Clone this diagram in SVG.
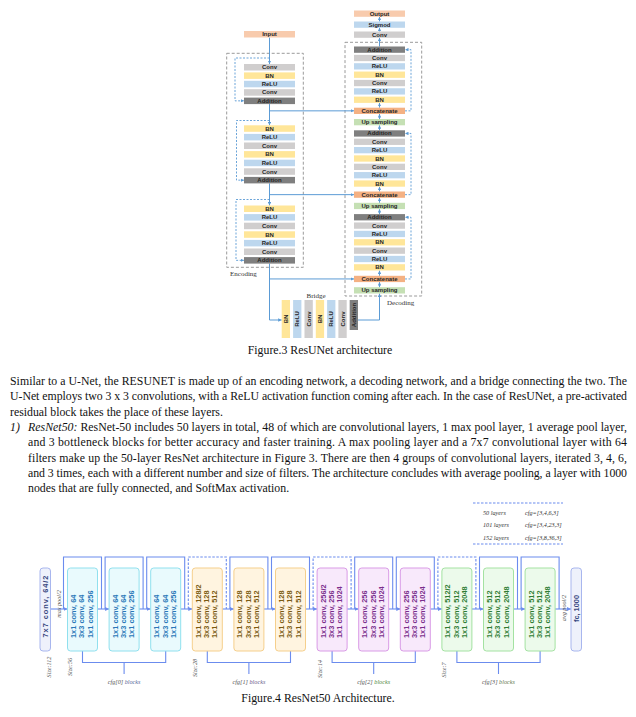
<svg xmlns="http://www.w3.org/2000/svg" width="636" height="717" viewBox="0 0 636 717">
<defs>
<style>
.conv{fill:#d0cece}.bn{fill:#ffe699}.relu{fill:#bdd7ee}.add{fill:#7f7f7f}.io{fill:#f8cbad}.cat{fill:#f4b183}.up{fill:#c5e0b4}
.t{font-family:"Liberation Sans",Arial,sans-serif;font-weight:bold;font-size:6px;text-anchor:middle;dominant-baseline:central;fill:#262626}
.ln{fill:none;stroke:#5b9bd5;stroke-width:1}
.dl{fill:none;stroke:#5b9bd5;stroke-width:0.9;stroke-dasharray:2 1.5}
.outer{fill:none;stroke:#9a9a9a;stroke-width:1;stroke-dasharray:3 2}
.lab{font-family:"Liberation Serif","Times New Roman",serif;font-size:7px;fill:#333}
.p{font-family:"Liberation Serif","Times New Roman",serif;font-size:11.8px;fill:#111}
.cap{font-family:"Liberation Serif","Times New Roman",serif;font-size:11.8px;fill:#111;text-anchor:middle}
.bx{stroke-width:1}
.sb{fill:#e9fafd;stroke:#90e0ee}.so{fill:#fff4e0;stroke:#f5cf8c}.sp{fill:#f8e9fb;stroke:#d99be6}.sg{fill:#ecfaeb;stroke:#a4e2a2}.sf{fill:#eef1fb;stroke:#a8b6ee}
.bt{font-family:"Liberation Sans",Arial,sans-serif;font-weight:bold;font-size:7.4px;dominant-baseline:central}
.tb{fill:#2a78b8}.to{fill:#7a5b12}.tp{fill:#7a2e8c}.tg{fill:#2f7d33}.tf{fill:#37467e}
.bl{fill:none;stroke:#6b8cee;stroke-width:1.1}
.bd{fill:none;stroke:#6b8cee;stroke-width:1.1;stroke-dasharray:2.5 1.5}
.sm{font-family:"Liberation Serif","Times New Roman",serif;font-style:italic;font-size:6.2px;fill:#555;text-anchor:middle;dominant-baseline:central}
.lg{font-family:"Liberation Serif","Times New Roman",serif;font-style:italic;font-size:6.2px;fill:#333;dominant-baseline:central}
</style>
<marker id="ah" viewBox="0 0 10 10" refX="10" refY="5" markerUnits="userSpaceOnUse" markerWidth="3.5" markerHeight="3.5" orient="auto"><path d="M0,0L10,5L0,10z" fill="#5b9bd5"/></marker>
<marker id="ab" viewBox="0 0 10 10" refX="10" refY="5" markerUnits="userSpaceOnUse" markerWidth="4" markerHeight="4" orient="auto"><path d="M0,0L10,5L0,10z" fill="#6b8cee"/></marker>
</defs>
<rect width="636" height="717" fill="#fff"/>

<!-- ResUNet frames -->
<g id="encoding-frame"><rect class="outer" x="226.7" y="53.3" width="76.6" height="214"/><text class="lab" x="230" y="275.5">Encoding</text></g>
<g id="decoding-frame"><rect class="outer" x="345" y="42.3" width="76.7" height="253.7"/><text class="lab" x="387" y="305">Decoding</text></g>
<g id="bridge-label"><text class="lab" x="316" y="298" text-anchor="middle">Bridge</text></g>

<!-- ResUNet connectors -->
<g id="unet-connectors">
<path class="ln" d="M269.5,37.5V64" marker-end="url(#ah)"/>
<path class="ln" d="M269.5,104.1V125.3" marker-end="url(#ah)"/>
<path class="ln" d="M269.5,110.85H354" marker-end="url(#ah)"/>
<path class="ln" d="M269.5,183.4V205.5" marker-end="url(#ah)"/>
<path class="ln" d="M269.5,194.65H354" marker-end="url(#ah)"/>
<path class="ln" d="M269.5,263.6V320H281.7" marker-end="url(#ah)"/>
<path class="ln" d="M269.5,278.95H354" marker-end="url(#ah)"/>
<path class="ln" d="M358,320H379.5V293.5" marker-end="url(#ah)"/>
<path class="dl" d="M269.5,58H235V100.85H244" marker-end="url(#ah)"/>
<path class="dl" d="M269.5,120.5H236.5V180.15H244" marker-end="url(#ah)"/>
<path class="dl" d="M269.5,199.5H236V260.35H244" marker-end="url(#ah)"/>
<path class="dl" d="M405,110.85H411V49.65H405" marker-end="url(#ah)"/>
<path class="dl" d="M405,194.65H411V133.45H405" marker-end="url(#ah)"/>
<path class="dl" d="M405,278.95H411V217.25H405" marker-end="url(#ah)"/>
<path class="ln" d="M379.5,21.5V16.8" marker-end="url(#ah)"/>
<path class="ln" d="M379.5,31.5V27.8" marker-end="url(#ah)"/>
<path class="ln" d="M379.5,46.5V37.8" marker-end="url(#ah)"/>
<path class="ln" d="M379.5,107.7V102.9" marker-end="url(#ah)"/>
<path class="ln" d="M379.5,119V114" marker-end="url(#ah)"/>
<path class="ln" d="M379.5,130.3V125.3" marker-end="url(#ah)"/>
<path class="ln" d="M379.5,191.5V186.7" marker-end="url(#ah)"/>
<path class="ln" d="M379.5,202.8V197.8" marker-end="url(#ah)"/>
<path class="ln" d="M379.5,214.1V209.1" marker-end="url(#ah)"/>
<path class="ln" d="M379.5,275.8V270.5" marker-end="url(#ah)"/>
<path class="ln" d="M379.5,287.2V282.1" marker-end="url(#ah)"/>
</g>

<!-- Input -->
<g id="input"><rect class="io" x="244" y="31" width="51" height="6.5"/><text class="t" x="269.5" y="34.25">Input</text></g>

<!-- Encoder block 1 -->
<g id="e1-conv1"><rect class="conv" x="244" y="64" width="51" height="6.5"/><text class="t" x="269.5" y="67.25">Conv</text></g>
<g id="e1-bn"><rect class="bn" x="244" y="72.4" width="51" height="6.5"/><text class="t" x="269.5" y="75.65">BN</text></g>
<g id="e1-relu"><rect class="relu" x="244" y="80.8" width="51" height="6.5"/><text class="t" x="269.5" y="84.05">ReLU</text></g>
<g id="e1-conv2"><rect class="conv" x="244" y="89.2" width="51" height="6.5"/><text class="t" x="269.5" y="92.45">Conv</text></g>
<g id="e1-add"><rect class="add" x="244" y="97.6" width="51" height="6.5"/><text class="t" x="269.5" y="100.85">Addition</text></g>

<!-- Encoder block 2 -->
<g id="e2-bn1"><rect class="bn" x="244" y="125.3" width="51" height="6.5"/><text class="t" x="269.5" y="128.55">BN</text></g>
<g id="e2-relu1"><rect class="relu" x="244" y="133.9" width="51" height="6.5"/><text class="t" x="269.5" y="137.15">ReLU</text></g>
<g id="e2-conv1"><rect class="conv" x="244" y="142.5" width="51" height="6.5"/><text class="t" x="269.5" y="145.75">Conv</text></g>
<g id="e2-bn2"><rect class="bn" x="244" y="151.1" width="51" height="6.5"/><text class="t" x="269.5" y="154.35">BN</text></g>
<g id="e2-relu2"><rect class="relu" x="244" y="159.7" width="51" height="6.5"/><text class="t" x="269.5" y="162.95">ReLU</text></g>
<g id="e2-conv2"><rect class="conv" x="244" y="168.3" width="51" height="6.5"/><text class="t" x="269.5" y="171.55">Conv</text></g>
<g id="e2-add"><rect class="add" x="244" y="176.9" width="51" height="6.5"/><text class="t" x="269.5" y="180.15">Addition</text></g>

<!-- Encoder block 3 -->
<g id="e3-bn1"><rect class="bn" x="244" y="205.5" width="51" height="6.5"/><text class="t" x="269.5" y="208.75">BN</text></g>
<g id="e3-relu1"><rect class="relu" x="244" y="214.1" width="51" height="6.5"/><text class="t" x="269.5" y="217.35">ReLU</text></g>
<g id="e3-conv1"><rect class="conv" x="244" y="222.7" width="51" height="6.5"/><text class="t" x="269.5" y="225.95">Conv</text></g>
<g id="e3-bn2"><rect class="bn" x="244" y="231.3" width="51" height="6.5"/><text class="t" x="269.5" y="234.55">BN</text></g>
<g id="e3-relu2"><rect class="relu" x="244" y="239.9" width="51" height="6.5"/><text class="t" x="269.5" y="243.15">ReLU</text></g>
<g id="e3-conv2"><rect class="conv" x="244" y="248.5" width="51" height="6.5"/><text class="t" x="269.5" y="251.75">Conv</text></g>
<g id="e3-add"><rect class="add" x="244" y="257.1" width="51" height="6.5"/><text class="t" x="269.5" y="260.35">Addition</text></g>

<!-- Decoder head -->
<g id="output"><rect class="io" x="354" y="10.5" width="51" height="6.3"/><text class="t" x="379.5" y="13.65">Output</text></g>
<g id="sigmod"><rect class="relu" x="354" y="21.5" width="51" height="6.3"/><text class="t" x="379.5" y="24.65">Sigmod</text></g>
<g id="out-conv"><rect class="conv" x="354" y="31.5" width="51" height="6.3"/><text class="t" x="379.5" y="34.65">Conv</text></g>

<!-- Decoder block 1 -->
<g id="d1-add"><rect class="add" x="354" y="46.5" width="51" height="6.3"/><text class="t" x="379.5" y="49.65">Addition</text></g>
<g id="d1-conv1"><rect class="conv" x="354" y="54.85" width="51" height="6.3"/><text class="t" x="379.5" y="58">Conv</text></g>
<g id="d1-relu1"><rect class="relu" x="354" y="63.2" width="51" height="6.3"/><text class="t" x="379.5" y="66.35">ReLU</text></g>
<g id="d1-bn1"><rect class="bn" x="354" y="71.55" width="51" height="6.3"/><text class="t" x="379.5" y="74.7">BN</text></g>
<g id="d1-conv2"><rect class="conv" x="354" y="79.9" width="51" height="6.3"/><text class="t" x="379.5" y="83.05">Conv</text></g>
<g id="d1-relu2"><rect class="relu" x="354" y="88.25" width="51" height="6.3"/><text class="t" x="379.5" y="91.4">ReLU</text></g>
<g id="d1-bn2"><rect class="bn" x="354" y="96.6" width="51" height="6.3"/><text class="t" x="379.5" y="99.75">BN</text></g>
<g id="d1-cat"><rect class="cat" x="354" y="107.7" width="51" height="6.3"/><text class="t" x="379.5" y="110.85">Concatenate</text></g>
<g id="d1-up"><rect class="up" x="354" y="119" width="51" height="6.3"/><text class="t" x="379.5" y="122.15">Up sampling</text></g>

<!-- Decoder block 2 -->
<g id="d2-add"><rect class="add" x="354" y="130.3" width="51" height="6.3"/><text class="t" x="379.5" y="133.45">Addition</text></g>
<g id="d2-conv1"><rect class="conv" x="354" y="138.65" width="51" height="6.3"/><text class="t" x="379.5" y="141.8">Conv</text></g>
<g id="d2-relu1"><rect class="relu" x="354" y="147" width="51" height="6.3"/><text class="t" x="379.5" y="150.15">ReLU</text></g>
<g id="d2-bn1"><rect class="bn" x="354" y="155.35" width="51" height="6.3"/><text class="t" x="379.5" y="158.5">BN</text></g>
<g id="d2-conv2"><rect class="conv" x="354" y="163.7" width="51" height="6.3"/><text class="t" x="379.5" y="166.85">Conv</text></g>
<g id="d2-relu2"><rect class="relu" x="354" y="172.05" width="51" height="6.3"/><text class="t" x="379.5" y="175.2">ReLU</text></g>
<g id="d2-bn2"><rect class="bn" x="354" y="180.4" width="51" height="6.3"/><text class="t" x="379.5" y="183.55">BN</text></g>
<g id="d2-cat"><rect class="cat" x="354" y="191.5" width="51" height="6.3"/><text class="t" x="379.5" y="194.65">Concatenate</text></g>
<g id="d2-up"><rect class="up" x="354" y="202.8" width="51" height="6.3"/><text class="t" x="379.5" y="205.95">Up sampling</text></g>

<!-- Decoder block 3 -->
<g id="d3-add"><rect class="add" x="354" y="214.1" width="51" height="6.3"/><text class="t" x="379.5" y="217.25">Addition</text></g>
<g id="d3-conv1"><rect class="conv" x="354" y="222.45" width="51" height="6.3"/><text class="t" x="379.5" y="225.6">Conv</text></g>
<g id="d3-relu1"><rect class="relu" x="354" y="230.8" width="51" height="6.3"/><text class="t" x="379.5" y="233.95">ReLU</text></g>
<g id="d3-bn1"><rect class="bn" x="354" y="239.15" width="51" height="6.3"/><text class="t" x="379.5" y="242.3">BN</text></g>
<g id="d3-conv2"><rect class="conv" x="354" y="247.5" width="51" height="6.3"/><text class="t" x="379.5" y="250.65">Conv</text></g>
<g id="d3-relu2"><rect class="relu" x="354" y="255.85" width="51" height="6.3"/><text class="t" x="379.5" y="259">ReLU</text></g>
<g id="d3-bn2"><rect class="bn" x="354" y="264.2" width="51" height="6.3"/><text class="t" x="379.5" y="267.35">BN</text></g>
<g id="d3-cat"><rect class="cat" x="354" y="275.8" width="51" height="6.3"/><text class="t" x="379.5" y="278.95">Concatenate</text></g>
<g id="d3-up"><rect class="up" x="354" y="287.2" width="51" height="6.3"/><text class="t" x="379.5" y="290.35">Up sampling</text></g>

<!-- Bridge -->
<g id="br-bn1"><rect class="bn" x="281.7" y="300" width="8.3" height="38"/><text class="t" transform="translate(285.85,319) rotate(-90)">BN</text></g>
<g id="br-relu1"><rect class="relu" x="293.1" y="300" width="8.3" height="38"/><text class="t" transform="translate(297.25,319) rotate(-90)">ReLU</text></g>
<g id="br-conv1"><rect class="conv" x="304.5" y="300" width="8.3" height="38"/><text class="t" transform="translate(308.65,319) rotate(-90)">Conv</text></g>
<g id="br-bn2"><rect class="bn" x="315.8" y="300" width="8.3" height="38"/><text class="t" transform="translate(319.95,319) rotate(-90)">BN</text></g>
<g id="br-relu2"><rect class="relu" x="327.1" y="300" width="8.3" height="38"/><text class="t" transform="translate(331.25,319) rotate(-90)">ReLU</text></g>
<g id="br-conv2"><rect class="conv" x="338.4" y="300" width="8.3" height="38"/><text class="t" transform="translate(342.55,319) rotate(-90)">Conv</text></g>
<g id="br-add"><rect class="add" x="349.7" y="300" width="8.3" height="30"/><text class="t" transform="translate(353.85,315) rotate(-90)">Addition</text></g>

<!-- Caption and paragraph -->
<text class="cap" x="320" y="354">Figure.3 ResUNet architecture</text>
<text class="p" x="10" y="385" textLength="617" lengthAdjust="spacing">Similar to a U-Net, the RESUNET is made up of an encoding network, a decoding network, and a bridge connecting the two. The</text>
<text class="p" x="10" y="400.3" textLength="617" lengthAdjust="spacing">U-Net employs two 3 x 3 convolutions, with a ReLU activation function coming after each. In the case of ResUNet, a pre-activated</text>
<text class="p" x="10" y="415.6">residual block takes the place of these layers.</text>
<text class="p" x="10" y="430.9" font-style="italic">1)</text>
<text class="p" x="28" y="430.9" textLength="599" lengthAdjust="spacing"><tspan font-style="italic">ResNet50:</tspan> ResNet-50 includes 50 layers in total, 48 of which are convolutional layers, 1 max pool layer, 1 average pool layer,</text>
<text class="p" x="28" y="446.2" textLength="599" lengthAdjust="spacing">and 3 bottleneck blocks for better accuracy and faster training. A max pooling layer and a 7x7 convolutional layer with 64</text>
<text class="p" x="28" y="461.5" textLength="599" lengthAdjust="spacing">filters make up the 50-layer ResNet architecture in Figure 3. There are then 4 groups of convolutional layers, iterated 3, 4, 6,</text>
<text class="p" x="28" y="476.8" textLength="599" lengthAdjust="spacing">and 3 times, each with a different number and size of filters. The architecture concludes with average pooling, a layer with 1000</text>
<text class="p" x="28" y="492.1">nodes that are fully connected, and SoftMax activation.</text>

<!-- ResNet50 legend -->
<g id="legend">
<path class="bd" d="M473,503H563M473,544H563" stroke-width="0.9"/>
<text class="lg" x="483" y="512">50 layers</text><text class="lg" x="525" y="512">cfg=[3,4,6,3]</text>
<text class="lg" x="483" y="524.5">101 layers</text><text class="lg" x="525" y="524.5">cfg=[3,4,23,3]</text>
<text class="lg" x="483" y="537">152 layers</text><text class="lg" x="525" y="537">cfg=[3,8,36,3]</text>
</g>

<!-- ResNet50 connectors -->
<g id="resnet-connectors">
<path class="bl" d="M50.5,609H67.5" marker-end="url(#ab)"/>
<path class="bl" d="M97.5,609H109.1" marker-end="url(#ab)"/>
<path class="bl" d="M139.1,609H150.7" marker-end="url(#ab)"/>
<path class="bl" d="M180.7,609H192.3" marker-end="url(#ab)"/>
<path class="bl" d="M222.3,609H233.9" marker-end="url(#ab)"/>
<path class="bl" d="M263.9,609H275.5" marker-end="url(#ab)"/>
<path class="bl" d="M305.5,609H317.1" marker-end="url(#ab)"/>
<path class="bl" d="M347.1,609H358.7" marker-end="url(#ab)"/>
<path class="bl" d="M388.7,609H400.3" marker-end="url(#ab)"/>
<path class="bl" d="M430.3,609H441.9" marker-end="url(#ab)"/>
<path class="bl" d="M471.9,609H483.5" marker-end="url(#ab)"/>
<path class="bl" d="M513.5,609H525.1" marker-end="url(#ab)"/>
<path class="bl" d="M555.1,609H571" marker-end="url(#ab)"/>
<path class="bl" d="M63.5,609V557H101.5V609"/>
<path class="bl" d="M105.1,609V557H143.1V609"/>
<path class="bl" d="M146.7,609V557H184.7V609"/>
<path class="bd" d="M188.3,609V557H226.3V609"/>
<path class="bl" d="M229.9,609V557H267.9V609"/>
<path class="bl" d="M271.5,609V557H309.5V609"/>
<path class="bd" d="M313.1,609V557H351.1V609"/>
<path class="bl" d="M354.7,609V557H392.7V609"/>
<path class="bl" d="M396.3,609V557H434.3V609"/>
<path class="bd" d="M437.9,609V557H475.9V609"/>
<path class="bl" d="M479.5,609V557H517.5V609"/>
<path class="bl" d="M521.1,609V557H559.1V609"/>
<path class="bl" d="M82.5,651V662.5H165.7V651M124.1,662.5V674"/>
<path class="bl" d="M207.3,651V662.5H290.5V651M248.9,662.5V674"/>
<path class="bl" d="M332.1,651V662.5H415.3V651M373.7,662.5V674"/>
<path class="bl" d="M456.9,651V662.5H540.1V651M498.5,662.5V674"/>
</g>

<!-- ResNet50 nodes -->
<g id="conv7x7"><rect class="bx sf" x="40" y="568" width="10.5" height="83" rx="3"/><text class="bt tf" font-size="8" text-anchor="middle" textLength="62" transform="translate(45.25,606.5) rotate(-90)">7x7 conv, 64/2</text></g>
<g id="maxpool"><text class="sm" transform="translate(58.5,604) rotate(-90)">max pool/2</text></g>

<g id="s1-b1"><rect class="bx sb" x="67.5" y="568" width="30" height="83" rx="3"/><text class="bt tb" transform="translate(73.5,638) rotate(-90)">1x1 conv, 64</text><text class="bt tb" transform="translate(81.8,638) rotate(-90)">3x3 conv, 64</text><text class="bt tb" transform="translate(90.1,638) rotate(-90)">1x1 conv, 256</text></g>
<g id="s1-b2"><rect class="bx sb" x="109.1" y="568" width="30" height="83" rx="3"/><text class="bt tb" transform="translate(115.1,638) rotate(-90)">1x1 conv, 64</text><text class="bt tb" transform="translate(123.4,638) rotate(-90)">3x3 conv, 64</text><text class="bt tb" transform="translate(131.7,638) rotate(-90)">1x1 conv, 256</text></g>
<g id="s1-b3"><rect class="bx sb" x="150.7" y="568" width="30" height="83" rx="3"/><text class="bt tb" transform="translate(156.7,638) rotate(-90)">1x1 conv, 64</text><text class="bt tb" transform="translate(165,638) rotate(-90)">3x3 conv, 64</text><text class="bt tb" transform="translate(173.3,638) rotate(-90)">1x1 conv, 256</text></g>

<g id="s2-b1"><rect class="bx so" x="192.3" y="568" width="30" height="83" rx="3"/><text class="bt to" transform="translate(198.3,638) rotate(-90)">1x1 conv, 128/2</text><text class="bt to" transform="translate(206.6,638) rotate(-90)">3x3 conv, 128</text><text class="bt to" transform="translate(214.9,638) rotate(-90)">1x1 conv, 512</text></g>
<g id="s2-b2"><rect class="bx so" x="233.9" y="568" width="30" height="83" rx="3"/><text class="bt to" transform="translate(239.9,638) rotate(-90)">1x1 conv, 128</text><text class="bt to" transform="translate(248.2,638) rotate(-90)">3x3 conv, 128</text><text class="bt to" transform="translate(256.5,638) rotate(-90)">1x1 conv, 512</text></g>
<g id="s2-b3"><rect class="bx so" x="275.5" y="568" width="30" height="83" rx="3"/><text class="bt to" transform="translate(281.5,638) rotate(-90)">1x1 conv, 128</text><text class="bt to" transform="translate(289.8,638) rotate(-90)">3x3 conv, 128</text><text class="bt to" transform="translate(298.1,638) rotate(-90)">1x1 conv, 512</text></g>

<g id="s3-b1"><rect class="bx sp" x="317.1" y="568" width="30" height="83" rx="3"/><text class="bt tp" transform="translate(323.1,638) rotate(-90)">1x1 conv, 256/2</text><text class="bt tp" transform="translate(331.4,638) rotate(-90)">3x3 conv, 256</text><text class="bt tp" transform="translate(339.7,638) rotate(-90)">1x1 conv, 1024</text></g>
<g id="s3-b2"><rect class="bx sp" x="358.7" y="568" width="30" height="83" rx="3"/><text class="bt tp" transform="translate(364.7,638) rotate(-90)">1x1 conv, 256</text><text class="bt tp" transform="translate(373,638) rotate(-90)">3x3 conv, 256</text><text class="bt tp" transform="translate(381.3,638) rotate(-90)">1x1 conv, 1024</text></g>
<g id="s3-b3"><rect class="bx sp" x="400.3" y="568" width="30" height="83" rx="3"/><text class="bt tp" transform="translate(406.3,638) rotate(-90)">1x1 conv, 256</text><text class="bt tp" transform="translate(414.6,638) rotate(-90)">3x3 conv, 256</text><text class="bt tp" transform="translate(422.9,638) rotate(-90)">1x1 conv, 1024</text></g>

<g id="s4-b1"><rect class="bx sg" x="441.9" y="568" width="30" height="83" rx="3"/><text class="bt tg" transform="translate(447.9,638) rotate(-90)">1x1 conv, 512/2</text><text class="bt tg" transform="translate(456.2,638) rotate(-90)">3x3 conv, 512</text><text class="bt tg" transform="translate(464.5,638) rotate(-90)">1x1 conv, 2048</text></g>
<g id="s4-b2"><rect class="bx sg" x="483.5" y="568" width="30" height="83" rx="3"/><text class="bt tg" transform="translate(489.5,638) rotate(-90)">1x1 conv, 512</text><text class="bt tg" transform="translate(497.8,638) rotate(-90)">3x3 conv, 512</text><text class="bt tg" transform="translate(506.1,638) rotate(-90)">1x1 conv, 2048</text></g>
<g id="s4-b3"><rect class="bx sg" x="525.1" y="568" width="30" height="83" rx="3"/><text class="bt tg" transform="translate(531.1,638) rotate(-90)">1x1 conv, 512</text><text class="bt tg" transform="translate(539.4,638) rotate(-90)">3x3 conv, 512</text><text class="bt tg" transform="translate(547.7,638) rotate(-90)">1x1 conv, 2048</text></g>

<g id="avgpool"><text class="sm" transform="translate(563.5,608) rotate(-90)">avg pool/2</text></g>
<g id="fc"><rect class="bx sf" x="571" y="568" width="10.5" height="83" rx="3"/><text class="bt tf" text-anchor="middle" transform="translate(576.25,608.5) rotate(-90)">fc, 1000</text></g>

<!-- Size labels & block labels -->
<g id="size-labels">
<text class="sm" transform="translate(48.5,667) rotate(-90)">Size:112</text>
<text class="sm" transform="translate(69,667) rotate(-90)">Size:56</text>
<text class="sm" transform="translate(194.5,668) rotate(-90)">Size:28</text>
<text class="sm" transform="translate(319.5,669) rotate(-90)">Size:14</text>
<text class="sm" transform="translate(443.5,670) rotate(-90)">Size:7</text>
</g>
<g id="block-labels">
<text class="sm" x="124.1" y="681" fill="#333">cfg[0] <tspan fill="#5a6a9a">blocks</tspan></text>
<text class="sm" x="248.9" y="681" fill="#333">cfg[1] <tspan fill="#6a5a8a">blocks</tspan></text>
<text class="sm" x="373.7" y="681" fill="#333">cfg[2] <tspan fill="#4f8a3f">blocks</tspan></text>
<text class="sm" x="498.5" y="681" fill="#333">cfg[3] <tspan fill="#5f7a4f">blocks</tspan></text>
</g>
<text class="cap" x="318" y="701.5">Figure.4 ResNet50 Architecture.</text>
</svg>
